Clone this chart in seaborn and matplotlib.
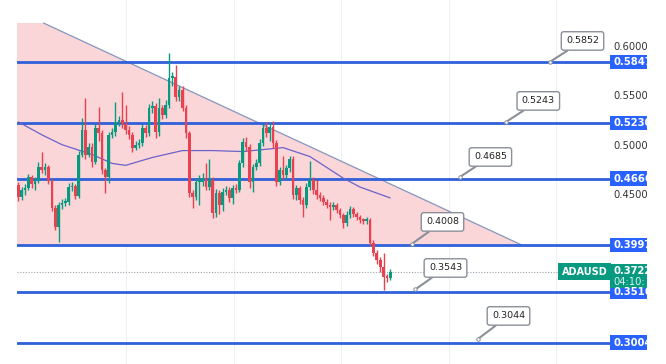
import numpy as np
import pandas as pd
import matplotlib.pyplot as plt
import seaborn as sns
from matplotlib.patches import Rectangle, Polygon

# daily closes (ADAUSD)
first_open = 0.460
closes = [0.448, 0.455, 0.457, 0.468, 0.461, 0.465, 0.478, 0.475, 0.478, 0.464,
          0.437, 0.418, 0.440, 0.442, 0.443, 0.458, 0.459, 0.449, 0.491, 0.516,
          0.491, 0.499, 0.483, 0.518, 0.513, 0.475, 0.468, 0.511, 0.514, 0.524,
          0.526, 0.522, 0.516, 0.511, 0.498, 0.501, 0.503, 0.518, 0.513, 0.538,
          0.540, 0.514, 0.538, 0.531, 0.541, 0.569, 0.570, 0.549, 0.556, 0.538,
          0.513, 0.452, 0.448, 0.463, 0.463, 0.467, 0.458, 0.465, 0.432, 0.452,
          0.440, 0.453, 0.455, 0.447, 0.457, 0.455, 0.482, 0.504, 0.499, 0.463,
          0.478, 0.482, 0.503, 0.518, 0.513, 0.519, 0.503, 0.463, 0.475, 0.470,
          0.477, 0.486, 0.450, 0.457, 0.445, 0.440, 0.458, 0.465, 0.455, 0.450,
          0.447, 0.443, 0.440, 0.438, 0.440, 0.435, 0.430, 0.422, 0.430, 0.436,
          0.431, 0.428, 0.425, 0.424, 0.425, 0.401, 0.391, 0.384, 0.377, 0.367,
          0.366, 0.3722]
highs = [0.463, 0.458, 0.461, 0.471, 0.470, 0.468, 0.483, 0.494, 0.482, 0.480,
         0.466, 0.440, 0.443, 0.446, 0.447, 0.462, 0.463, 0.461, 0.495, 0.528,
         0.548, 0.503, 0.503, 0.522, 0.539, 0.516, 0.477, 0.514, 0.518, 0.544,
         0.530, 0.554, 0.541, 0.520, 0.514, 0.505, 0.507, 0.522, 0.521, 0.542,
         0.545, 0.543, 0.548, 0.541, 0.546, 0.594, 0.575, 0.582, 0.560, 0.560,
         0.541, 0.515, 0.455, 0.467, 0.470, 0.472, 0.482, 0.486, 0.468, 0.456,
         0.455, 0.457, 0.459, 0.458, 0.460, 0.461, 0.485, 0.508, 0.509, 0.502,
         0.481, 0.486, 0.507, 0.522, 0.524, 0.523, 0.525, 0.506, 0.478, 0.490,
         0.480, 0.490, 0.489, 0.460, 0.459, 0.448, 0.462, 0.484, 0.468, 0.465,
         0.453, 0.450, 0.446, 0.443, 0.443, 0.442, 0.437, 0.432, 0.434, 0.439,
         0.438, 0.433, 0.430, 0.427, 0.428, 0.427, 0.404, 0.394, 0.387, 0.391,
         0.370, 0.375]
lows = [0.444, 0.445, 0.450, 0.455, 0.457, 0.455, 0.462, 0.472, 0.470, 0.461,
        0.434, 0.414, 0.402, 0.436, 0.439, 0.440, 0.454, 0.446, 0.447, 0.488,
        0.486, 0.488, 0.478, 0.481, 0.505, 0.471, 0.452, 0.462, 0.508, 0.510,
        0.520, 0.518, 0.512, 0.507, 0.494, 0.496, 0.498, 0.500, 0.509, 0.510,
        0.533, 0.508, 0.510, 0.527, 0.528, 0.538, 0.560, 0.545, 0.545, 0.535,
        0.508, 0.448, 0.437, 0.445, 0.440, 0.459, 0.455, 0.455, 0.427, 0.428,
        0.431, 0.434, 0.450, 0.443, 0.441, 0.452, 0.453, 0.478, 0.495, 0.457,
        0.453, 0.475, 0.479, 0.500, 0.509, 0.505, 0.498, 0.459, 0.460, 0.466,
        0.466, 0.473, 0.446, 0.445, 0.441, 0.428, 0.437, 0.455, 0.451, 0.446,
        0.444, 0.440, 0.437, 0.425, 0.435, 0.432, 0.427, 0.417, 0.419, 0.427,
        0.428, 0.425, 0.422, 0.421, 0.421, 0.398, 0.388, 0.380, 0.372, 0.354,
        0.362, 0.364]

# moving average, sampled along the chart (candle number, price)
ma_idx = [1, 8, 14, 23, 29, 33, 41, 50, 59, 68, 80, 88, 98, 103, 112]
ma_val = [0.524, 0.511, 0.501, 0.491, 0.482, 0.480, 0.488, 0.495, 0.495, 0.494,
          0.498, 0.489, 0.467, 0.458, 0.447]

# horizontal levels and the callout values written next to them
levels = [0.5847, 0.5230, 0.4666, 0.3997, 0.3516, 0.3004]
callouts = [0.5852, 0.5243, 0.4685, 0.4008, 0.3543, 0.3044]
last_price = 0.3722
symbol = 'ADAUSD'
countdown = '04:10:'
price_ticks = [0.45, 0.50, 0.55, 0.60]

# descending triangle: start of the falling line, its end on the 0.3997 support
tri_x = [8.5, 151.0]
tri_y = [0.6243, 0.3997]

df = pd.DataFrame({'close': closes, 'high': highs, 'low': lows})
df['open'] = [first_open] + closes[:-1]
df['i'] = np.arange(1, len(df) + 1)
up = df['close'] >= df['open']

GREEN = '#089981'
RED = '#E8414F'
BLUE = '#2962FF'
LINE = '#2F60DA'

sns.set_style('white')
plt.rcParams['font.family'] = ['DejaVu Sans']

fig = plt.figure(figsize=(6.66, 3.64), dpi=100)
ax = fig.add_axes([17 / 666, 0, 593 / 666, 1])
ylo, yhi = 0.2787, 0.6476
xlo, xhi = 0.6, 177.6
ax.set_xlim(xlo, xhi)
ax.set_ylim(ylo, yhi)

# faint grid
for gx in [33.2, 65.3, 97.4, 129.5, 161.6]:
    ax.axvline(gx, color='#eef0f4', lw=0.8, zorder=0)

# pink triangle zone
ax.add_patch(Polygon([(xlo, tri_y[0]), (tri_x[0], tri_y[0]), (tri_x[1], tri_y[1]), (xlo, tri_y[1])],
                     closed=True, fc='#FAD6D9', ec='none', zorder=1))
ax.plot(tri_x, tri_y, color='#8497BE', lw=0.9, zorder=2)

# levels
for lv in levels:
    ax.axhline(lv, color=LINE, lw=2.0, zorder=3)
ax.axhline(last_price, color='#9aa3ad', lw=0.8, ls=(0, (1, 1.5)), zorder=2)

# moving average
sns.lineplot(x=ma_idx, y=ma_val, ax=ax, color='#6B63C9', lw=0.9, zorder=4)

# candles
colors = np.where(up, GREEN, RED)
ax.vlines(df['i'], df['low'], df['high'], colors=colors, lw=1.0, zorder=5)
body_lo = np.minimum(df['open'], df['close'])
body_h = np.maximum(np.abs(df['close'] - df['open']), 0.0014)
ax.bar(df['i'], body_h, bottom=body_lo, width=0.8, color=colors, lw=0, zorder=6)

# callouts
box_pos = [(169.4, 0.6061), (156.2, 0.5453), (141.9, 0.4885),
           (127.6, 0.4227), (128.5, 0.3760), (147.3, 0.3274)]
anchor_x = [159.8, 146.7, 132.9, 118.6, 119.5, 138.3]
for val, (bx, by), axx in zip(callouts, box_pos, anchor_x):
    ax.annotate(f'{val:.4f}', xy=(axx, val), xytext=(bx, by), ha='center', va='center',
                fontsize=6.8, color='#222222', zorder=8,
                bbox=dict(boxstyle='round,pad=0.5,rounding_size=0.25', fc='white', ec='#8a8f98', lw=1.0),
                arrowprops=dict(arrowstyle='-', color='#8a8f98', lw=1.5, shrinkA=0, shrinkB=0))
    ax.plot(axx, val, 'o', ms=2.5, mfc='white', mec='#8a8f98', mew=0.7, zorder=9)

# symbol tag
ax.text(xhi - 0.8, last_price, symbol, ha='right', va='center', fontsize=7, color='white',
        fontweight='bold', zorder=10,
        bbox=dict(boxstyle='square,pad=0.35', fc=GREEN, ec='none'))

ax.set_xticks([])
ax.set_yticks([])
for s in ax.spines.values():
    s.set_visible(False)

# price scale
sc = fig.add_axes([610 / 666, 0, 37 / 666, 1])
sc.set_xlim(0, 1)
sc.set_ylim(ylo, yhi)
sc.axis('off')
for t in price_ticks:
    sc.text(0.1, t, f'{t:.4f}', va='center', ha='left', fontsize=7.2, color='#333333', clip_on=True)
for lv in levels:
    sc.add_patch(Rectangle((0, lv - 0.0072), 1, 0.0144, fc=BLUE, ec='none', zorder=5))
    sc.text(0.1, lv, f'{lv:.4f}', va='center', ha='left', fontsize=7.2, color='white',
            fontweight='bold', zorder=6, clip_on=True)
sc.add_patch(Rectangle((0, last_price - 0.0165), 1, 0.0240, fc=GREEN, ec='none', zorder=5))
sc.text(0.1, last_price + 0.0005, f'{last_price:.4f}', va='center', ha='left', fontsize=7.2,
        color='white', fontweight='bold', zorder=6, clip_on=True)
sc.text(0.1, last_price - 0.0105, countdown, va='center', ha='left', fontsize=7.2,
        color='#d8f3ee', zorder=6, clip_on=True)

fig.savefig('out.png', dpi=100)
